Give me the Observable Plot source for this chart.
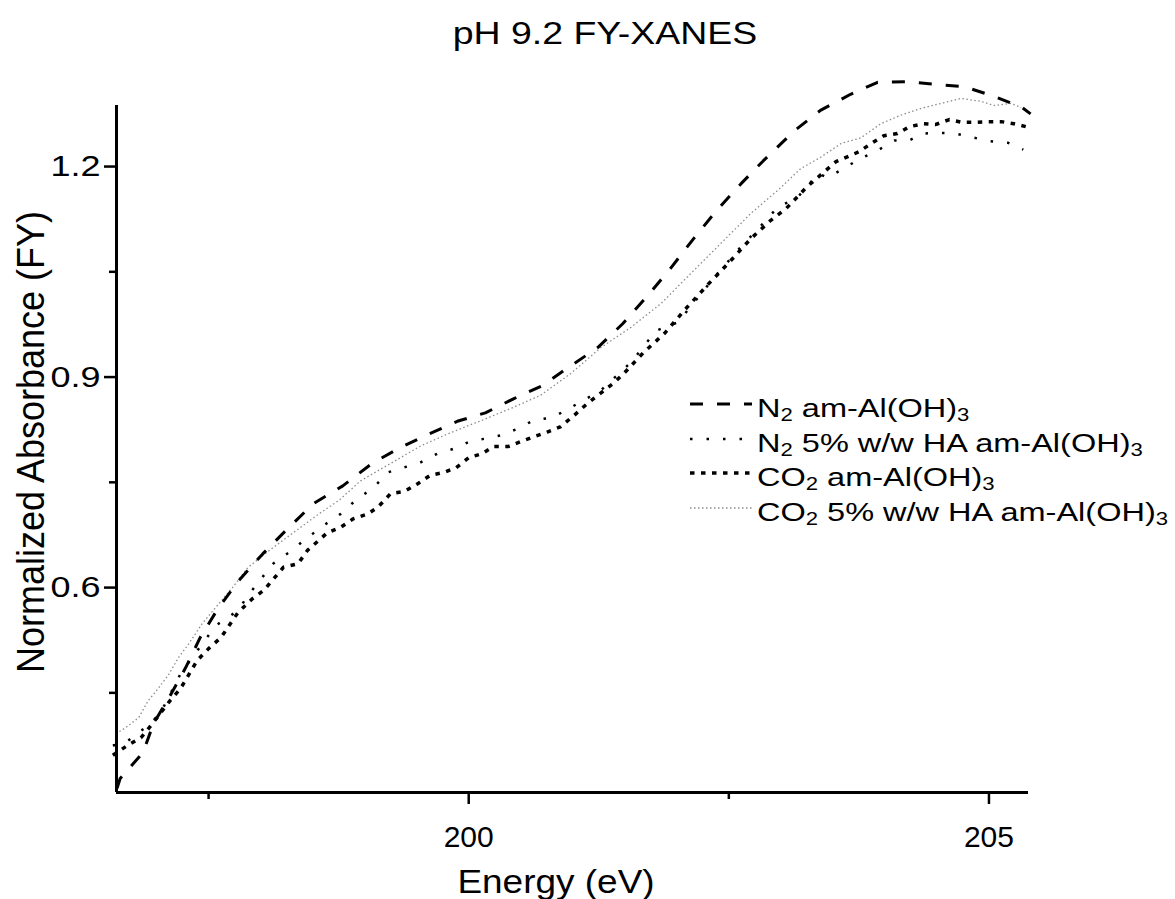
<!DOCTYPE html>
<html>
<head>
<meta charset="utf-8">
<script src="https://cdn.jsdelivr.net/npm/d3@7"></script>
<script src="https://cdn.jsdelivr.net/npm/@observablehq/plot@0.6"></script>
<style>
  html, body { margin: 0; padding: 0; background: #fff; }
  #wrap { position: relative; width: 1175px; height: 899px; overflow: hidden; font-family: "Liberation Sans", Arial, sans-serif; color: #000; }
  .txt { position: absolute; white-space: nowrap; line-height: 1; }
  #chart { position: absolute; left: 0; top: 70px; }
  sub { font-size: 0.68em; vertical-align: -0.25em; line-height: 0; }
</style>
</head>
<body>
<div id="wrap">
  <div id="chart"></div>
</div>
<script>
// ---------- data ----------
const titleText = "pH 9.2 FY-XANES";
const xLabel = "Energy (eV)";
const yLabel = "Normalized Absorbance (FY)";

const seriesNames = [
  "N_2 am-Al(OH)_3",
  "N_2 5% w/w HA am-Al(OH)_3",
  "CO_2 am-Al(OH)_3",
  "CO_2 5% w/w HA am-Al(OH)_3"
];

const xMajorTicks = [200, 205];
const xMinorTicks = [197.5, 202.5];
const yMajorTicks = [0.6, 0.9, 1.2];
const yMinorTicks = [0.45, 0.75, 1.05];
const xDomain = [196.615, 205.38];
const yDomain = [0.308, 1.287];

// N2 am-Al(OH)3
const n2AmX = [196.62,196.65,196.87,196.97,197.13,197.28,197.42,197.59,197.79,198.02,198.26,198.51,198.79,199.08,199.35,199.62,199.89,200.16,200.43,200.71,200.96,201.24,201.48,201.72,201.94,202.16,202.38,202.62,202.83,203.13,203.38,203.67,203.93,204.22,204.49,204.76,205.05,205.31,205.40];
const n2AmY = [0.314,0.328,0.365,0.406,0.446,0.486,0.529,0.570,0.610,0.648,0.684,0.720,0.745,0.778,0.800,0.819,0.837,0.849,0.869,0.888,0.914,0.942,0.976,1.016,1.055,1.097,1.137,1.176,1.208,1.251,1.280,1.303,1.320,1.321,1.317,1.314,1.300,1.285,1.275];

// N2 5% w/w HA am-Al(OH)3
const n2HaX = [196.58,196.70,196.94,197.04,197.23,197.44,197.57,197.78,197.88,198.12,198.27,198.44,198.60,198.77,198.91,199.09,199.22,199.37,199.52,199.70,199.86,200.02,200.15,200.31,200.48,200.63,200.80,200.95,201.27,201.56,201.80,202.01,202.36,202.60,202.81,202.97,203.16,203.36,203.45,203.76,203.93,204.09,204.23,204.37,204.52,204.68,204.86,205.01,205.18,205.33];
const n2HaY = [0.375,0.379,0.406,0.422,0.477,0.520,0.546,0.567,0.589,0.634,0.650,0.670,0.688,0.705,0.724,0.743,0.764,0.771,0.777,0.791,0.798,0.809,0.812,0.817,0.827,0.839,0.842,0.854,0.881,0.921,0.966,0.978,1.042,1.083,1.116,1.142,1.156,1.190,1.184,1.211,1.223,1.237,1.237,1.247,1.248,1.247,1.241,1.236,1.234,1.224];

// CO2 am-Al(OH)3
const co2AmX = [196.58,196.72,196.85,196.96,197.13,197.23,197.39,197.50,197.62,197.78,197.92,198.03,198.22,198.36,198.45,198.64,198.77,198.89,199.03,199.13,199.25,199.38,199.51,199.63,199.76,199.88,200.00,200.13,200.24,200.38,200.50,200.63,200.76,200.88,201.01,201.13,201.25,201.39,201.49,201.68,201.88,202.09,202.30,202.50,202.71,202.90,203.05,203.25,203.53,203.75,203.88,203.99,204.12,204.24,204.37,204.49,204.62,204.74,204.87,204.99,205.12,205.24,205.38];
const co2AmY = [0.361,0.375,0.386,0.406,0.439,0.456,0.496,0.513,0.529,0.564,0.584,0.596,0.629,0.634,0.653,0.678,0.686,0.698,0.705,0.715,0.734,0.737,0.748,0.760,0.764,0.771,0.785,0.791,0.801,0.801,0.808,0.815,0.822,0.829,0.845,0.861,0.875,0.891,0.905,0.935,0.962,0.998,1.032,1.063,1.097,1.123,1.140,1.171,1.207,1.221,1.234,1.244,1.247,1.257,1.261,1.260,1.267,1.263,1.263,1.264,1.264,1.261,1.256];

// CO2 5% w/w HA am-Al(OH)3
const co2HaX = [196.61,196.70,196.83,196.92,197.02,197.12,197.21,197.31,197.44,197.57,197.73,197.88,198.12,198.34,198.56,198.75,198.96,199.25,199.54,199.83,200.12,200.40,200.69,200.98,201.27,201.56,201.85,202.13,202.42,202.71,203.00,203.19,203.38,203.58,203.77,203.96,204.15,204.35,204.54,204.73,204.92,205.05,205.21,205.31];
const co2HaY = [0.392,0.400,0.415,0.439,0.457,0.477,0.500,0.520,0.549,0.572,0.600,0.629,0.657,0.681,0.705,0.724,0.752,0.777,0.802,0.821,0.838,0.855,0.874,0.905,0.942,0.971,1.005,1.047,1.090,1.133,1.170,1.197,1.213,1.233,1.241,1.261,1.273,1.283,1.290,1.297,1.293,1.287,1.290,1.284];

// ---------- styles ----------
const styles = [
  {stroke: "#000", strokeWidth: 3, strokeDasharray: "13,14", strokeLinecap: "butt"},
  {stroke: "#000", strokeWidth: 2.5, strokeDasharray: "2.5,14", strokeLinecap: "butt"},
  {stroke: "#000", strokeWidth: 3.5, strokeDasharray: "4.5,6.5", strokeLinecap: "butt"},
  {stroke: "#8c8c8c", strokeWidth: 1.3, strokeDasharray: "1.5,2.5", strokeLinecap: "butt"}
];

const xs = [n2AmX, n2HaX, co2AmX, co2HaX];
const ys = [n2AmY, n2HaY, co2AmY, co2HaY];
const seriesData = xs.map((xa, i) => xa.map((x, j) => ({x, y: ys[i][j]})));

const chart = Plot.plot({
  width: 1175,
  height: 829,
  marginTop: 35,
  marginBottom: 107,
  marginLeft: 116,
  marginRight: 147,
  x: {domain: xDomain},
  y: {domain: yDomain},
  style: {fontFamily: '"Liberation Sans", Arial, sans-serif', fontSize: "30px", color: "#000", background: "transparent", overflow: "visible"},
  marks: [
    ...seriesData.slice().reverse().map((d, k) => {
      const i = seriesData.length - 1 - k;
      return Plot.line(d, {x: "x", y: "y", ...styles[i], strokeLinejoin: "round"});
    }),
    Plot.axisX({ticks: xMajorTicks, tickSize: 12, tickPadding: 21, strokeWidth: 2.5, tickFormat: d => String(d), label: null}),
    Plot.axisX({ticks: xMinorTicks, tickSize: 7, strokeWidth: 2.5, tickFormat: () => "", label: null}),
    Plot.axisY({ticks: yMajorTicks, tickSize: 12, tickPadding: 4, strokeWidth: 2.5, tickFormat: d3.format(".1f"), label: null}),
    Plot.axisY({ticks: yMinorTicks, tickSize: 7, strokeWidth: 2.5, tickFormat: () => "", label: null}),
    Plot.ruleX([xDomain[0]], {stroke: "#000", strokeWidth: 3}),
    Plot.ruleY([yDomain[0]], {stroke: "#000", strokeWidth: 3})
  ]
});
document.getElementById("chart").appendChild(chart);

// widen the y tick labels a little, as in the reference
d3.select(chart).selectAll('g[aria-label="y-axis tick label"] text').each(function () {
  const t = this.getAttribute("transform");
  if (t && t.includes("translate")) this.setAttribute("transform", t + " scale(1.2,1)");
});

// ---------- texts ----------
const wrap = document.getElementById("wrap");
function md(s) { return s.replace(/_(\d)/g, "<sub>$1</sub>"); }

const title = document.createElement("div");
title.className = "txt";
title.textContent = titleText;
Object.assign(title.style, {left: "605px", top: "17px", fontSize: "32px", transform: "translateX(-50%) scaleX(1.17)"});
wrap.appendChild(title);

const xl = document.createElement("div");
xl.className = "txt";
xl.textContent = xLabel;
Object.assign(xl.style, {left: "556px", top: "865px", fontSize: "33px", transform: "translateX(-50%) scaleX(1.12)"});
wrap.appendChild(xl);

const yl = document.createElement("div");
yl.className = "txt";
yl.textContent = yLabel;
Object.assign(yl.style, {left: "31px", top: "442px", fontSize: "36px", transform: "translate(-50%,-50%) rotate(-90deg) scaleY(1.08)"});
wrap.appendChild(yl);

// legend
seriesNames.forEach((name, i) => {
  const baseline = 417 + i * 34.5;
  const lineY = baseline - 13;
  const svg = d3.create("svg").attr("width", 64).attr("height", 10)
    .style("position", "absolute").style("left", "689px").style("top", (lineY - 5) + "px").style("overflow", "visible");
  svg.append("line").attr("x1", 1).attr("x2", 63).attr("y1", 5).attr("y2", 5)
    .attr("stroke", styles[i].stroke).attr("stroke-width", styles[i].strokeWidth)
    .attr("stroke-dasharray", styles[i].strokeDasharray).attr("stroke-linecap", "butt");
  wrap.appendChild(svg.node());
  const t = document.createElement("div");
  t.className = "txt";
  t.innerHTML = md(name);
  Object.assign(t.style, {left: "757px", top: (baseline - 22) + "px", fontSize: "26px", transformOrigin: "0 50%", transform: "scaleX(1.25)"});
  wrap.appendChild(t);
});
</script>
</body>
</html>
